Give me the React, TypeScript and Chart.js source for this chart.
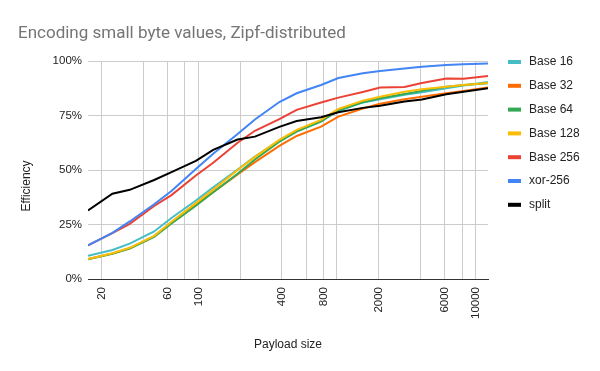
import { useEffect, useRef } from "react";
import { Chart, registerables } from "chart.js";

Chart.register(...registerables);

const TITLE = "Encoding small byte values, Zipf-distributed";
const X_TITLE = "Payload size";
const Y_TITLE = "Efficiency";

const payloadSizes = [16, 24, 32, 48, 64, 96, 128, 192, 256, 384, 512, 768, 1024, 1536, 2048, 3072, 4096, 6144, 8192, 12288];

const base16 = [10.6, 13.3, 16.2, 21.8, 28.0, 36.0, 42.1, 50.2, 56.2, 63.5, 67.8, 72.5, 77.0, 81.0, 82.5, 84.5, 85.7, 87.5, 88.7, 90.4];
const base32 = [9.2, 11.7, 14.1, 19.5, 25.7, 34.0, 39.8, 48.0, 53.6, 61.1, 65.6, 69.9, 74.5, 78.2, 80.4, 82.5, 83.6, 85.2, 86.3, 87.8];
const base64 = [9.0, 11.6, 14.0, 19.3, 25.5, 33.6, 39.8, 48.3, 54.8, 63.0, 67.6, 72.2, 77.4, 81.1, 82.9, 84.9, 86.3, 88.2, 89.0, 89.8];
const base128 = [9.2, 11.8, 14.3, 19.8, 26.3, 34.8, 41.0, 50.0, 56.0, 63.8, 68.4, 73.0, 78.0, 81.8, 83.6, 85.9, 87.0, 88.2, 89.0, 89.9];
const base256 = [15.4, 21.0, 25.3, 33.5, 38.5, 47.5, 53.3, 62.5, 68.0, 73.3, 77.6, 81.0, 83.2, 85.8, 87.8, 88.1, 89.9, 92.0, 91.9, 93.1];
const xor256 = [15.4, 21.2, 26.4, 34.3, 40.4, 50.5, 57.5, 66.5, 73.2, 81.2, 85.2, 89.0, 92.2, 94.4, 95.4, 96.6, 97.4, 98.2, 98.5, 98.8];
const split = [31.4, 39.1, 40.9, 45.4, 49.0, 54.2, 59.2, 64.0, 65.3, 69.8, 72.5, 74.2, 76.5, 78.5, 79.5, 81.4, 82.3, 84.7, 85.9, 87.5];

const seriesNames = ["Base 16", "Base 32", "Base 64", "Base 128", "Base 256", "xor-256", "split"];
const seriesValues = [base16, base32, base64, base128, base256, xor256, split];
const seriesColors = ["#46bdc6", "#ff6d01", "#34a853", "#fbbc04", "#ea4335", "#4285f4", "#000000"];

const xGridTicks = [20, 40, 60, 80, 100, 200, 400, 600, 800, 1000, 2000, 4000, 6000, 8000, 10000];
const xLabeledTicks = [20, 60, 100, 400, 800, 2000, 6000, 10000];
const yTicks = [0, 25, 50, 75, 100];

const SANS = '"Liberation Sans", Arial, sans-serif';

const overlayPlugin = {
  id: "overlayText",
  afterDraw(chart: any) {
    const ctx = chart.ctx as CanvasRenderingContext2D;
    ctx.save();
    ctx.fillStyle = "#757575";
    ctx.font = "17px Roboto";
    ctx.textAlign = "left";
    ctx.textBaseline = "alphabetic";
    ctx.fillText(TITLE, 18, 38);
    ctx.restore();

    ctx.save();
    ctx.translate(27, 186);
    ctx.rotate(-Math.PI / 2);
    ctx.fillStyle = "#222222";
    ctx.font = "12px " + SANS;
    ctx.textAlign = "center";
    ctx.textBaseline = "middle";
    ctx.fillText(Y_TITLE, 0, 0);
    ctx.restore();

    ctx.save();
    ctx.font = "12px " + SANS;
    ctx.textAlign = "left";
    ctx.textBaseline = "middle";
    seriesNames.forEach((name, i) => {
      const y = 62 + i * 23.8;
      ctx.fillStyle = seriesColors[i];
      ctx.fillRect(508, y - 2, 13, 4);
      ctx.fillStyle = "#222222";
      ctx.fillText(name, 529, y);
    });
    ctx.restore();
  },
};

export default function App() {
  const canvasRef = useRef<HTMLCanvasElement | null>(null);

  useEffect(() => {
    const canvas = canvasRef.current;
    if (!canvas) return;
    const datasets = seriesNames.map((name, i) => ({
      label: name,
      data: payloadSizes.map((x, j) => ({ x, y: seriesValues[i][j] })),
      borderColor: seriesColors[i],
      backgroundColor: seriesColors[i],
      borderWidth: 2,
      pointRadius: 0,
      tension: 0,
      fill: false,
      order: seriesNames.length - 1 - i,
    }));

    const chart = new Chart(canvas, {
      type: "line",
      data: { datasets },
      plugins: [overlayPlugin],
      options: {
        responsive: false,
        animation: false,
        devicePixelRatio: 1,
        layout: { padding: { left: 0, right: 112, top: 61, bottom: 0 } },
        plugins: {
          legend: { display: false },
          title: { display: false },
          tooltip: { enabled: false },
        },
        scales: {
          x: {
            type: "logarithmic",
            min: 16,
            max: 12288,
            afterBuildTicks: (scale: any) => {
              scale.ticks = xGridTicks.map((v) => ({ value: v }));
            },
            afterFit: (scale: any) => {
              scale.height = 92;
            },
            grid: { color: "#cccccc", drawTicks: false, lineWidth: 1 },
            border: { display: true, color: "#333333", width: 1 },
            ticks: {
              autoSkip: false,
              minRotation: 90,
              maxRotation: 90,
              padding: 8,
              color: "#222222",
              font: { family: SANS, size: 11.5 },
              callback: (value: any) => (xLabeledTicks.includes(Number(value)) ? String(value) : ""),
            },
            title: {
              display: true,
              text: X_TITLE,
              color: "#222222",
              font: { family: SANS, size: 12 },
              padding: { top: 0, bottom: 19 },
            },
          },
          y: {
            type: "linear",
            min: 0,
            max: 100,
            afterBuildTicks: (scale: any) => {
              scale.ticks = yTicks.map((v) => ({ value: v }));
            },
            afterFit: (scale: any) => {
              scale.width = 88;
            },
            grid: {
              color: (c: any) => (c.tick && c.tick.value === 0 ? "#333333" : "#cccccc"),
              drawTicks: false,
              lineWidth: 1,
            },
            border: { display: false },
            ticks: {
              padding: 6,
              color: "#222222",
              font: { family: SANS, size: 11.5 },
              callback: (value: any) => value + "%",
            },
          },
        },
      },
    } as any);

    return () => chart.destroy();
  }, []);

  return (
    <div style={{ position: "absolute", left: 0, top: 0, width: 600, height: 371, background: "#ffffff" }}>
      <canvas ref={canvasRef} width={600} height={371} style={{ display: "block", width: 600, height: 371 }} />
    </div>
  );
}
